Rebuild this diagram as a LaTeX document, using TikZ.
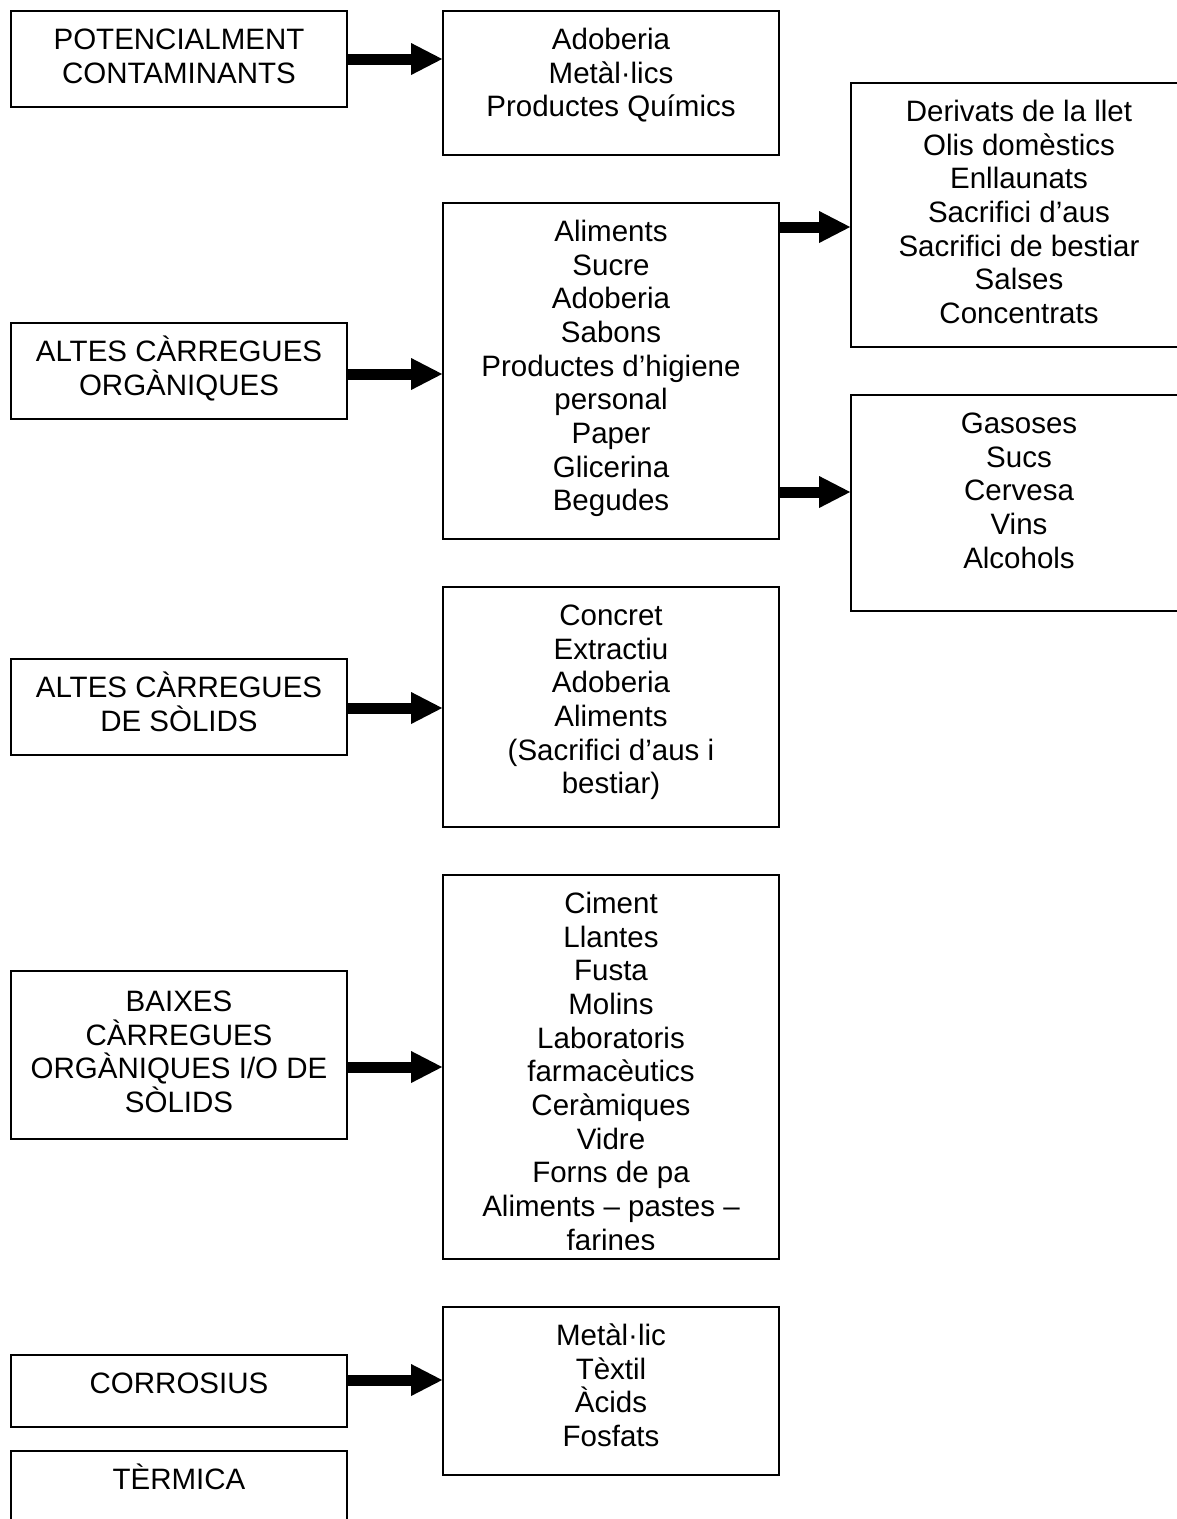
\documentclass[tikz,border=0pt]{standalone}
\usepackage{fontspec}
\setmainfont{Liberation Sans}
\usetikzlibrary{arrows.meta}
\newcommand\tstrut{\rule{0pt}{30pt}}
\begin{document}
\begin{tikzpicture}[x=1pt,y=-1pt,
  box/.style={draw, line width=1.8pt, rectangle, inner sep=0pt, minimum width=336pt},
  txt/.style={align=center, inner sep=0pt, anchor=north,
    font=\fontsize{29.5}{33.7}\selectfont},
  bigarrow/.style={line width=11pt, -{Triangle[length=31pt,width=32pt,line width=0pt]}}]
\useasboundingbox (0,0) rectangle (1177,1519);
\fill[white] (0,0) rectangle (1177,1519);
% boxes
\node[box, minimum height=96pt]  (b1) at (179,59) {};
\node[box, minimum height=144pt] (a1) at (611,83) {};
\node[box, minimum height=264pt] (d1) at (1019,215) {};
\node[box, minimum height=96pt]  (b2) at (179,371) {};
\node[box, minimum height=336pt] (a2) at (611,371) {};
\node[box, minimum height=216pt] (g1) at (1019,503) {};
\node[box, minimum height=96pt]  (b3) at (179,707) {};
\node[box, minimum height=240pt] (a3) at (611,707) {};
\node[box, minimum height=168pt] (b4) at (179,1055) {};
\node[box, minimum height=384pt] (a4) at (611,1067) {};
\node[box, minimum height=72pt]  (b5) at (179,1391) {};
\node[box, minimum height=168pt] (a5) at (611,1391) {};
\node[box, minimum height=96pt]  (b6) at (179,1499) {};
% texts
\node[txt] (b1t) at ([yshift=-9pt]b1.north) {\tstrut POTENCIALMENT\\CONTAMINANTS};
\node[txt] (a1t) at ([yshift=-9pt]a1.north) {\tstrut Adoberia\\Metàl·lics\\Productes Químics};
\node[txt] (d1t) at ([yshift=-9pt]d1.north) {\tstrut Derivats de la llet\\Olis domèstics\\Enllaunats\\Sacrifici d’aus\\Sacrifici de bestiar\\Salses\\Concentrats};
\node[txt] (b2t) at ([yshift=-9pt]b2.north) {\tstrut ALTES CÀRREGUES\\ORGÀNIQUES};
\node[txt] (a2t) at ([yshift=-9pt]a2.north) {\tstrut Aliments\\Sucre\\Adoberia\\Sabons\\Productes d’higiene\\personal\\Paper\\Glicerina\\Begudes};
\node[txt] (g1t) at ([yshift=-9pt]g1.north) {\tstrut Gasoses\\Sucs\\Cervesa\\Vins\\Alcohols};
\node[txt] (b3t) at ([yshift=-9pt]b3.north) {\tstrut ALTES CÀRREGUES\\DE SÒLIDS};
\node[txt] (a3t) at ([yshift=-9pt]a3.north) {\tstrut Concret\\Extractiu\\Adoberia\\Aliments\\(Sacrifici d’aus i\\bestiar)};
\node[txt] (b4t) at ([yshift=-11pt]b4.north) {\tstrut BAIXES\\CÀRREGUES\\ORGÀNIQUES I/O DE\\SÒLIDS};
\begin{scope}
\clip (445,877) rectangle (777,1249);
\node[txt] (a4t) at ([yshift=-9pt]a4.north) {\tstrut Ciment\\Llantes\\Fusta\\Molins\\Laboratoris\\farmacèutics\\Ceràmiques\\Vidre\\Forns de pa\\Aliments – pastes –\\farines};
\end{scope}
\node[txt] (b5t) at ([yshift=-9pt]b5.north) {\tstrut CORROSIUS};
\node[txt] (a5t) at ([yshift=-9pt]a5.north) {\tstrut Metàl·lic\\Tèxtil\\Àcids\\Fosfats};
\node[txt] (b6t) at ([yshift=-9pt]b6.north) {\tstrut TÈRMICA};
% arrows
\draw[bigarrow] (b1.east |- 0,59) -- (a1.west |- 0,59);
\draw[bigarrow] (b2.east |- 0,374) -- (a2.west |- 0,374);
\draw[bigarrow] (a2.east |- 0,227) -- (d1.west |- 0,227);
\draw[bigarrow] (a2.east |- 0,492) -- (g1.west |- 0,492);
\draw[bigarrow] (b3.east |- 0,708) -- (a3.west |- 0,708);
\draw[bigarrow] (b4.east |- 0,1067) -- (a4.west |- 0,1067);
\draw[bigarrow] (b5.east |- 0,1380) -- (a5.west |- 0,1380);
\end{tikzpicture}
\end{document}
